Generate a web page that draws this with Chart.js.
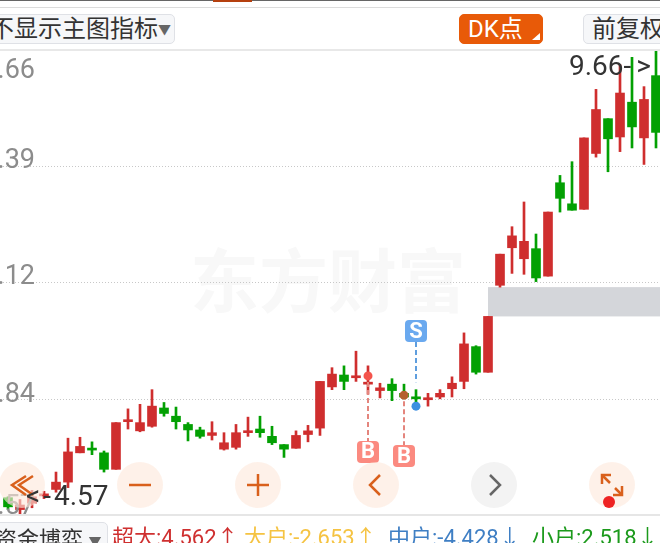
<!DOCTYPE html>
<html>
<head>
<meta charset="utf-8">
<script src="https://cdn.jsdelivr.net/npm/chart.js@4/dist/chart.umd.min.js"></script>
<style>
  html, body { margin: 0; padding: 0; background: #fff; }
  #page { position: relative; width: 660px; height: 543px; overflow: hidden; background: #fff;
    font-family: Roboto, "Noto Sans CJK SC", sans-serif; }
  #page > * { position: absolute; }
  canvas { left: 0; top: 50px; }
  .rule { left: 0; width: 660px; }
  .btn { box-sizing: border-box; height: 30px; top: 14px; border-radius: 5px; font-size: 24px; line-height: 29px;
    color: #333; background: #f6f7f9; border: 1px solid #dfe1e6; white-space: nowrap; }
  .extreme { font-size: 28px; line-height: 30px; color: #333; white-space: nowrap; }
  .flow { top: 521px; font-size: 22px; line-height: 34px; white-space: nowrap; }
  #watermark { left: 190px; top: 244px; font-size: 69px; line-height: 80px; font-weight: 700; color: #f8f8f8; white-space: nowrap; }
</style>
</head>
<body>
<div id="page">
  <div id="watermark">东方财富</div>
  <canvas id="kline" width="660" height="466"></canvas>

  <div class="rule" style="top:0;height:1px;background:#666"></div>
  <div style="left:213px;top:0;width:39px;height:2px;background:#b5400f"></div>
  <div class="rule" style="top:7px;height:1px;background:#dcdcdc"></div>
  <div class="rule" style="top:49px;height:2px;background:#e8e8e8"></div>
  <div class="rule" style="top:514px;height:2px;background:#e6e6e6"></div>

  <div class="btn" style="left:-20px;width:195px;padding-left:9px">不显示主图指标<span style="font-size:13px;color:#666;vertical-align:3px">▼</span></div>
  <div class="btn" style="left:459px;width:84px;padding-left:8px;background:#e85a08;border-color:#e85a08;color:#fff">DK点</div>
  <svg style="left:531px;top:33px" width="10" height="8"><polygon points="9,0 9,7 1,7" fill="#fff"/></svg>
  <div class="btn" style="left:583px;width:90px;padding-left:8px">前复权</div>

  <svg style="left:0;top:0" width="660" height="543" fill="none" stroke-width="2.5">
    <g fill="rgba(253,232,220,0.62)" stroke="none">
      <circle cx="22" cy="485" r="23"/><circle cx="140" cy="485" r="23"/><circle cx="258" cy="485" r="23"/>
      <circle cx="376" cy="485" r="23"/><circle cx="612" cy="485" r="23"/>
    </g>
    <circle cx="494" cy="485" r="23" fill="#f3f3f3"/>
    <g stroke="#d9601c">
      <polyline points="26,476 12,485 26,495"/><polyline points="33,476 19,485 33,495"/>
      <line x1="129" y1="485" x2="151" y2="485"/>
      <line x1="247" y1="485" x2="269" y2="485"/><line x1="258" y1="474" x2="258" y2="496"/>
      <polyline points="380,475 370,485 380,495"/>
      <line x1="602" y1="475" x2="610" y2="483"/><polyline points="602,484 602,475 611,475"/>
      <line x1="615" y1="488" x2="622" y2="495"/><polyline points="613,495 622,495 622,486"/>
    </g>
    <polyline points="490,475 500,485 490,495" stroke="#666"/>
    <circle cx="609" cy="502" r="6" fill="#ee2222"/>
  </svg>

  <div class="extreme" style="left:569px;top:51px">9.66<span style="letter-spacing:5px">-&gt;</span></div>
  <div class="extreme" style="left:26px;top:481px"><span style="letter-spacing:3px">&lt;-</span>4.57</div>

  <div class="btn" style="left:-20px;top:522px;width:128px;height:40px;padding-left:14px;line-height:33px;font-size:22px">资金博弈 <span style="font-size:13px;color:#666;vertical-align:1px">▼</span></div>
  <div class="flow" style="left:112px;color:#cf3030">超大:4.562↑</div>
  <div class="flow" style="left:244px;color:#f5c342">大户:-2.653↑</div>
  <div class="flow" style="left:388px;color:#3f7fc4">中户:-4.428↓</div>
  <div class="flow" style="left:532px;color:#1c9a1c">小户:2.518↓</div>
</div>

<script>
const opens = [4.77, 4.64, 4.71, 4.79, 4.86, 4.94, 5.26, 5.31, 5.26, 5.08, 5.60, 5.50, 5.55, 5.75, 5.66, 5.57, 5.51, 5.45, 5.30, 5.32, 5.48, 5.52, 5.44, 5.35, 5.31, 5.46, 5.53, 5.98, 6.11, 6.08, 6.01, 5.94, 6.01, 5.91, 5.87, 5.84, 5.87, 5.96, 6.04, 6.42, 6.14, 7.09, 7.50, 7.38, 7.49, 7.19, 8.21, 7.98, 7.92, 8.53, 8.91, 8.71, 9.09, 8.70, 9.38];
const closes = [4.67, 4.69, 4.78, 4.81, 4.94, 5.27, 5.33, 5.29, 5.08, 5.59, 5.62, 5.59, 5.77, 5.69, 5.60, 5.51, 5.44, 5.48, 5.37, 5.48, 5.50, 5.48, 5.37, 5.30, 5.45, 5.50, 6.04, 6.12, 6.04, 6.10, 6.03, 5.97, 5.94, 5.87, 5.85, 5.86, 5.91, 6.02, 6.45, 6.14, 6.75, 7.43, 7.63, 7.57, 7.17, 7.89, 8.04, 7.91, 8.70, 9.01, 8.69, 9.19, 8.82, 9.12, 8.76];
const highs = [4.78, 4.75, 4.85, 4.84, 5.05, 5.42, 5.43, 5.38, 5.28, 5.59, 5.74, 5.79, 5.95, 5.81, 5.76, 5.59, 5.54, 5.60, 5.48, 5.57, 5.65, 5.66, 5.55, 5.35, 5.50, 5.56, 6.04, 6.19, 6.21, 6.37, 6.21, 6.02, 6.07, 6.01, 5.95, 5.91, 5.95, 6.09, 6.57, 6.43, 6.75, 7.43, 7.73, 8.00, 7.65, 7.89, 8.29, 8.44, 8.70, 9.23, 8.91, 9.50, 9.58, 9.26, 9.66];
const lows = [4.64, 4.58, 4.66, 4.76, 4.83, 4.88, 5.26, 5.24, 5.05, 5.08, 5.52, 5.49, 5.54, 5.66, 5.52, 5.39, 5.42, 5.40, 5.29, 5.30, 5.44, 5.43, 5.35, 5.21, 5.31, 5.38, 5.45, 5.95, 5.95, 6.04, 5.90, 5.86, 5.83, 5.85, 5.80, 5.77, 5.85, 5.87, 5.96, 6.12, 6.14, 7.07, 7.22, 7.21, 7.13, 7.19, 7.89, 7.91, 7.92, 8.49, 8.33, 8.55, 8.59, 8.41, 8.59];

const priceTicks = [9.66, 8.39, 7.12, 5.84, 4.57];
const priceLabels = ["9.66", "8.39", "7.12", "5.84", "4.57"];
const labelOffsets = [21, -5, -5, -4, -9];

// buy / sell marks
const signalDays = [30, 33, 34];
const signalPrices = [6.10, 5.89, 5.77];
const signalNames = ["B", "B", "S"];
const signalTagPrices = [5.27, 5.225, 6.59];
const signalColors = ["#f4544c", "#b5602f", "#3d8fe0"];

// DK zone
const zoneStartDay = 40;
const zoneTop = 7.07;
const zoneBottom = 6.75;

const RED = "#cf2e2e";
const GREEN = "#03a003";
const candleColors = opens.map((o, i) => (closes[i] >= o ? RED : GREEN));

const zonePlugin = {
  id: "zone",
  beforeDatasetsDraw(chart) {
    const { ctx, scales } = chart;
    const left = scales.x.getPixelForValue(zoneStartDay);
    const top = scales.y.getPixelForValue(zoneTop);
    const bottom = scales.y.getPixelForValue(zoneBottom);
    ctx.save();
    ctx.fillStyle = "#d4d6da";
    ctx.fillRect(left, top, chart.width - left, bottom - top);
    ctx.restore();
  },
};

const labelPlugin = {
  id: "labels",
  afterDraw(chart) {
    const { ctx, scales } = chart;
    ctx.save();

    // price labels, cut off by the left edge like the screenshot
    ctx.font = "27px Roboto";
    ctx.fillStyle = "#8c8c8c";
    ctx.textAlign = "right";
    ctx.textBaseline = "middle";
    priceTicks.forEach((tick, i) => {
      ctx.fillText(priceLabels[i], 35, scales.y.getPixelForValue(tick) + labelOffsets[i]);
    });

    signalDays.forEach((day, i) => {
      const x = scales.x.getPixelForValue(day);
      const dotY = scales.y.getPixelForValue(signalPrices[i]);
      const tagY = scales.y.getPixelForValue(signalTagPrices[i]);
      const isBuy = signalNames[i] === "B";
      const lineColor = isBuy ? "#e4857d" : "#5f9ede";

      ctx.strokeStyle = lineColor;
      ctx.lineWidth = 2;
      ctx.setLineDash([5, 3]);
      ctx.beginPath();
      ctx.moveTo(x, isBuy ? dotY + 6 : tagY + 11);
      ctx.lineTo(x, isBuy ? tagY - 11 : dotY - 24);
      ctx.stroke();
      ctx.setLineDash([]);

      ctx.fillStyle = isBuy ? "#fb8a80" : "#6aa9ef";
      ctx.beginPath();
      ctx.roundRect(x - 11, tagY - 11, 22, 22, 4);
      ctx.fill();
      ctx.fillStyle = "#fff";
      ctx.font = "bold 22px Roboto";
      ctx.textAlign = "center";
      ctx.fillText(signalNames[i], x, tagY + 1);
    });
    ctx.restore();
  },
};

new Chart(document.getElementById("kline").getContext("2d"), {
  type: "bar",
  data: {
    datasets: [
      {
        type: "line",
        data: signalDays.map((d, i) => ({ x: d, y: signalPrices[i] })),
        showLine: false,
        pointRadius: 4.5,
        pointBackgroundColor: signalColors,
        pointBorderWidth: 0,
        order: 0,
      },
      {
        data: opens.map((o, i) => ({ x: i, y: [o, closes[i]] })),
        backgroundColor: candleColors,
        barThickness: 9,
        minBarLength: 2,
        grouped: false,
        order: 1,
      },
      {
        data: highs.map((h, i) => ({ x: i, y: [lows[i], h] })),
        backgroundColor: candleColors,
        barThickness: 2,
        grouped: false,
        order: 2,
      },
    ],
  },
  options: {
    responsive: false,
    animation: false,
    // points would otherwise shrink the plot area
    layout: { padding: 0, autoPadding: false },
    plugins: { legend: { display: false }, tooltip: { enabled: false } },
    scales: {
      x: { type: "linear", display: false, offset: false, min: -2 / 3, max: 54 + 1 / 3 },
      y: {
        min: 4.57,
        max: 9.66,
        afterFit(scale) { scale.width = 0; },
        afterBuildTicks(scale) { scale.ticks = priceTicks.map((v) => ({ value: v })); },
        ticks: { display: false },
        border: { display: false, dash: [1, 2] },
        grid: { color: "#c8c8c8", lineWidth: 1, drawTicks: false },
      },
    },
  },
  plugins: [zonePlugin, labelPlugin],
});
</script>
</body>
</html>
